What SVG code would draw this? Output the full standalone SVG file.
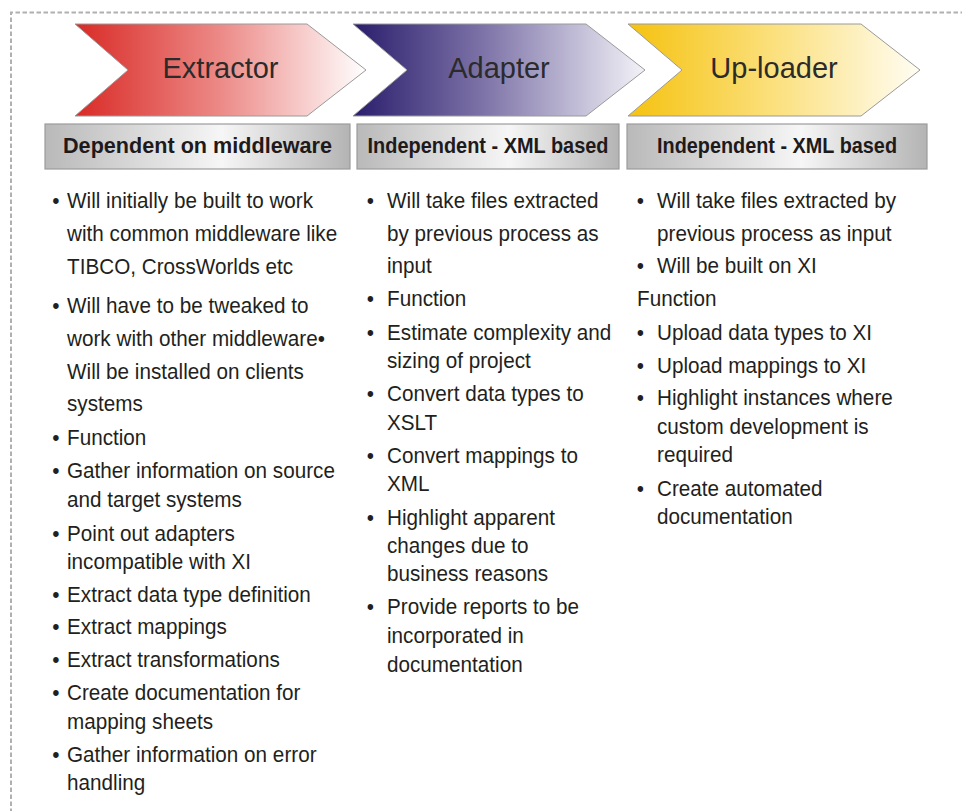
<svg xmlns="http://www.w3.org/2000/svg" width="962" height="811" viewBox="0 0 962 811">
<style>
.frame{fill:none;stroke:#b0b0b0;stroke-width:2;stroke-dasharray:4.5 2.5}
.chev{stroke:#9a9a9a;stroke-width:1}
.ctitle{font-family:"Liberation Sans",Arial,sans-serif;font-size:29px;fill:#2b2b2b;text-anchor:middle}
.hbox{fill:url(#gGray);stroke:#9c9c9c;stroke-width:1.2}
.htxt{font-family:"Liberation Sans",Arial,sans-serif;font-size:21.5px;font-weight:bold;fill:#1e1a1b;text-anchor:middle}
.body{font-family:"Liberation Sans",Arial,sans-serif;font-size:22.5px;fill:#231f20}
</style>
<defs>
<linearGradient id="gRed" x1="0" y1="0" x2="1" y2="0">
<stop offset="0" stop-color="#d92a26"/>
<stop offset="0.5" stop-color="#ec8a87"/>
<stop offset="1" stop-color="#ffffff"/>
</linearGradient>
<linearGradient id="gBlue" x1="0" y1="0" x2="1" y2="0">
<stop offset="0" stop-color="#2a1d6c"/>
<stop offset="0.45" stop-color="#7e74a8"/>
<stop offset="1" stop-color="#f3f2f8"/>
</linearGradient>
<linearGradient id="gGold" x1="0" y1="0" x2="1" y2="0">
<stop offset="0" stop-color="#f5c20f"/>
<stop offset="0.5" stop-color="#fbe07d"/>
<stop offset="1" stop-color="#fffdf3"/>
</linearGradient>
<linearGradient id="gGray" x1="0" y1="0" x2="1" y2="0">
<stop offset="0" stop-color="#b9b9b9"/>
<stop offset="0.58" stop-color="#f6f6f6"/>
<stop offset="1" stop-color="#b4b4b4"/>
</linearGradient>
</defs>

<path class="frame" d="M11 820 V12.5 H970"/>

<g id="extractor">
<polygon class="chev" fill="url(#gRed)" points="75,24 307,24 366,70 307,116 75,116 128,70"/>
<text class="ctitle" x="220.5" y="78">Extractor</text>
</g>
<g id="adapter">
<polygon class="chev" fill="url(#gBlue)" points="353,24 586,24 645,70 586,116 353,116 407,70"/>
<text class="ctitle" x="499" y="78">Adapter</text>
</g>
<g id="uploader">
<polygon class="chev" fill="url(#gGold)" points="628,24 861,24 920,70 861,116 628,116 682,70"/>
<text class="ctitle" x="774" y="78">Up-loader</text>
</g>

<g id="header1">
<rect class="hbox" x="45" y="124" width="305" height="45"/>
<text class="htxt" x="197.5" y="153" textLength="269" lengthAdjust="spacingAndGlyphs">Dependent on middleware</text>
</g>
<g id="header2">
<rect class="hbox" x="357" y="124" width="262" height="45"/>
<text class="htxt" x="488" y="153" textLength="241" lengthAdjust="spacingAndGlyphs">Independent - XML based</text>
</g>
<g id="header3">
<rect class="hbox" x="627" y="124" width="300" height="45"/>
<text class="htxt" x="777" y="153" textLength="240" lengthAdjust="spacingAndGlyphs">Independent - XML based</text>
</g>

<g id="col1" class="body" transform="translate(67,0) scale(0.92,1)">
<text x="-16" y="208">•</text><text x="0" y="208">Will initially be built to work</text>
<text x="0" y="241">with common middleware like</text>
<text x="0" y="274">TIBCO, CrossWorlds etc</text>
<text x="-16" y="313">•</text><text x="0" y="313">Will have to be tweaked to</text>
<text x="0" y="346">work with other middleware•</text>
<text x="0" y="379">Will be installed on clients</text>
<text x="0" y="411">systems</text>
<text x="-16" y="445">•</text><text x="0" y="445">Function</text>
<text x="-16" y="478">•</text><text x="0" y="478">Gather information on source</text>
<text x="0" y="507">and target systems</text>
<text x="-16" y="541">•</text><text x="0" y="541">Point out adapters</text>
<text x="0" y="569">incompatible with XI</text>
<text x="-16" y="602">•</text><text x="0" y="602">Extract data type definition</text>
<text x="-16" y="634">•</text><text x="0" y="634">Extract mappings</text>
<text x="-16" y="667">•</text><text x="0" y="667">Extract transformations</text>
<text x="-16" y="700">•</text><text x="0" y="700">Create documentation for</text>
<text x="0" y="729">mapping sheets</text>
<text x="-16" y="762">•</text><text x="0" y="762">Gather information on error</text>
<text x="0" y="790">handling</text>
</g>

<g id="col2" class="body" transform="translate(387,0) scale(0.92,1)">
<text x="-22" y="208">•</text><text x="0" y="208">Will take files extracted</text>
<text x="0" y="241">by previous process as</text>
<text x="0" y="273">input</text>
<text x="-22" y="306">•</text><text x="0" y="306">Function</text>
<text x="-22" y="340">•</text><text x="0" y="340">Estimate complexity and</text>
<text x="0" y="368">sizing of project</text>
<text x="-22" y="401">•</text><text x="0" y="401">Convert data types to</text>
<text x="0" y="430">XSLT</text>
<text x="-22" y="463">•</text><text x="0" y="463">Convert mappings to</text>
<text x="0" y="491">XML</text>
<text x="-22" y="525">•</text><text x="0" y="525">Highlight apparent</text>
<text x="0" y="553">changes due to</text>
<text x="0" y="581">business reasons</text>
<text x="-22" y="614">•</text><text x="0" y="614">Provide reports to be</text>
<text x="0" y="643">incorporated in</text>
<text x="0" y="672">documentation</text>
</g>

<g id="col3" class="body" transform="translate(657,0) scale(0.92,1)">
<text x="-22" y="208">•</text><text x="0" y="208">Will take files extracted by</text>
<text x="0" y="241">previous process as input</text>
<text x="-22" y="273">•</text><text x="0" y="273">Will be built on XI</text>
<text x="-21.7" y="306">Function</text>
<text x="-22" y="340">•</text><text x="0" y="340">Upload data types to XI</text>
<text x="-22" y="373">•</text><text x="0" y="373">Upload mappings to XI</text>
<text x="-22" y="405">•</text><text x="0" y="405">Highlight instances where</text>
<text x="0" y="434">custom development is</text>
<text x="0" y="462">required</text>
<text x="-22" y="496">•</text><text x="0" y="496">Create automated</text>
<text x="0" y="524">documentation</text>
</g>
</svg>
